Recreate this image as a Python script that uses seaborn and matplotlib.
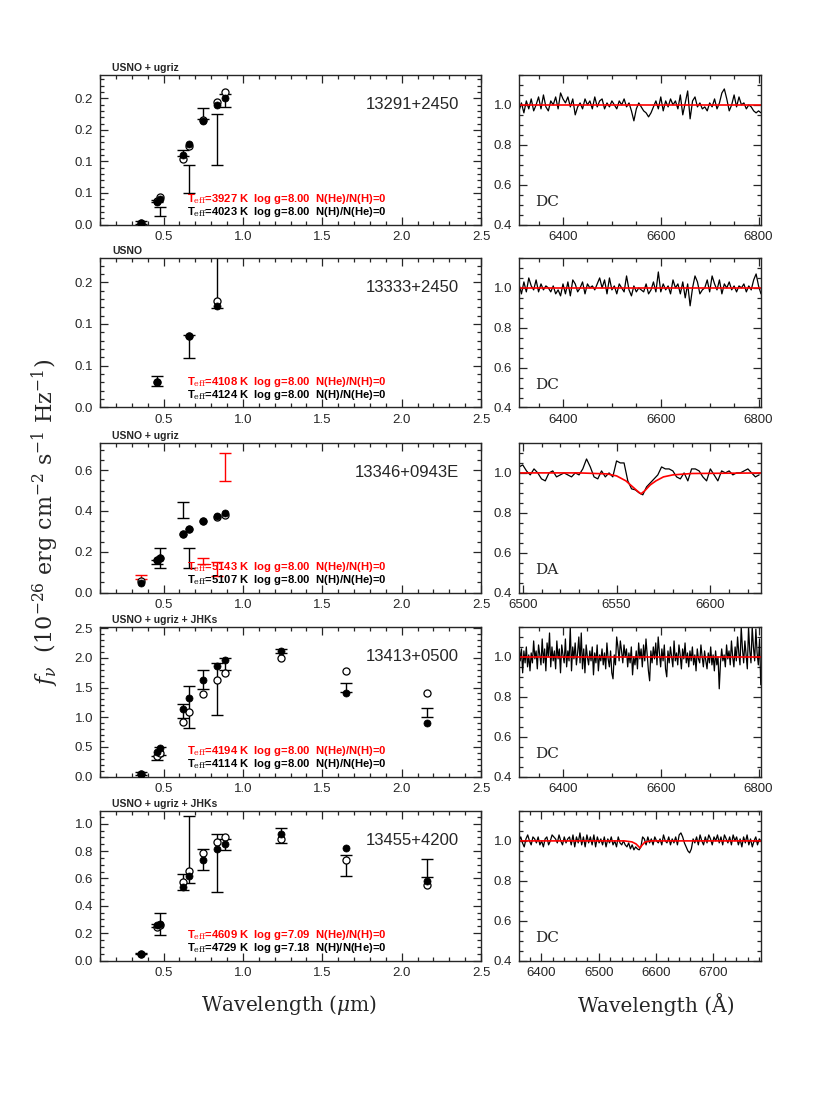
import matplotlib
matplotlib.use("Agg")
import matplotlib.pyplot as plt
import seaborn as sns
import numpy as np
from matplotlib.ticker import MultipleLocator, FixedLocator, FixedFormatter, FormatStrFormatter

# ---- photometry (wavelength in micron, flux in 1e-26 erg/cm2/s/Hz) ----
usno_ugriz = [0.36, 0.46, 0.48, 0.62, 0.66, 0.75, 0.84, 0.89]
usno_only = [0.46, 0.66, 0.84]
usno_ugriz_jhk = [0.36, 0.46, 0.48, 0.62, 0.66, 0.75, 0.84, 0.89, 1.24, 1.65, 2.16]

s1_obs = [0.003, 0.037, 0.021, 0.113, 0.0725, 0.176, 0.1345, 0.197]
s1_err = [0.002, 0.002, 0.007, 0.005, 0.0225, 0.009, 0.0405, 0.010]
s1_bad = [0, 0, 0, 0, 0, 0, 0, 0]
s1_h = [0.003, 0.036, 0.041, 0.110, 0.128, 0.164, 0.189, 0.201]
s1_he = [0.003, 0.037, 0.043, 0.104, 0.125, 0.166, 0.194, 0.2095]

s2_obs = [0.032, 0.073, 0.17]
s2_err = [0.006, 0.0143, 0.051]
s2_bad = [0, 0, 0]
s2_h = [0.030, 0.0857, 0.122]
s2_he = [0.030, 0.086, 0.128]

s3_obs = [0.077, 0.15, 0.17, 0.406, 0.17, 0.155, 0.115, 0.614]
s3_err = [0.010, 0.010, 0.05, 0.040, 0.05, 0.014, 0.033, 0.068]
s3_bad = [1, 0, 0, 0, 0, 1, 1, 1]
s3_h = [0.046, 0.16, 0.17, 0.287, 0.313, 0.352, 0.377, 0.39]
s3_he = [0.054, 0.16, 0.17, 0.287, 0.313, 0.352, 0.372, 0.38]

s4_obs = [0.05, 0.31, 0.43, 1.105, 1.165, 1.635, 1.48, 1.89, 2.115, 1.50, 1.075]
s4_err = [0.02, 0.04, 0.06, 0.115, 0.355, 0.165, 0.44, 0.10, 0.035, 0.07, 0.075]
s4_bad = [0] * 11
s4_h = [0.05, 0.41, 0.475, 1.14, 1.32, 1.63, 1.87, 1.97, 2.12, 1.41, 0.905]
s4_he = [0.05, 0.35, 0.40, 0.92, 1.09, 1.39, 1.63, 1.75, 1.99, 1.78, 1.40]

s5_obs = [0.049, 0.255, 0.267, 0.573, 0.811, 0.74, 0.712, 0.848, 0.914, 0.696, 0.674]
s5_err = [0.005, 0.012, 0.079, 0.056, 0.245, 0.075, 0.212, 0.04, 0.055, 0.076, 0.067]
s5_bad = [0] * 11
s5_h = [0.049, 0.26, 0.268, 0.541, 0.615, 0.732, 0.817, 0.854, 0.927, 0.822, 0.578]
s5_he = [0.049, 0.244, 0.26, 0.573, 0.651, 0.788, 0.868, 0.902, 0.89, 0.737, 0.551]

names = ["13291+2450", "13333+2450", "13346+0943E", "13413+0500", "13455+4200"]
surveys = ["USNO + ugriz", "USNO", "USNO + ugriz", "USNO + ugriz + JHKs", "USNO + ugriz + JHKs"]
fit_h = ["=3927 K  log g=8.00  N(He)/N(H)=0", "=4108 K  log g=8.00  N(He)/N(H)=0",
         "=5143 K  log g=8.00  N(He)/N(H)=0", "=4194 K  log g=8.00  N(He)/N(H)=0",
         "=4609 K  log g=7.09  N(He)/N(H)=0"]
fit_he = ["=4023 K  log g=8.00  N(H)/N(He)=0", "=4124 K  log g=8.00  N(H)/N(He)=0",
          "=5107 K  log g=8.00  N(H)/N(He)=0", "=4114 K  log g=8.00  N(H)/N(He)=0",
          "=4729 K  log g=7.18  N(H)/N(He)=0"]
sptypes = ["DC", "DC", "DA", "DC", "DC"]

# ---- spectra (normalised flux) ----
sp1 = [0.97, 1.01, 0.96, 1.02, 0.98, 1.03, 0.97, 1.00, 1.04, 0.98,
       1.05, 0.99, 0.97, 1.02, 1.00, 1.04, 0.98, 1.06, 1.03, 1.01,
       1.04, 0.99, 1.03, 0.95, 0.99, 1.01, 0.98, 1.03, 1.00, 1.02,
       0.98, 1.04, 0.99, 1.02, 1.03, 0.98, 1.01, 0.99, 1.02, 1.00,
       0.98, 1.02, 1.00, 1.03, 0.99, 1.01, 0.97, 0.92, 0.98, 1.01,
       0.99, 0.97, 0.96, 0.94, 0.96, 0.99, 1.02, 0.98, 1.04, 0.97,
       1.02, 0.99, 1.03, 1.00, 1.02, 0.98, 1.05, 0.95, 1.01, 1.07,
       0.93, 1.02, 1.04, 0.99, 1.01, 0.98, 0.99, 0.97, 1.01, 0.99,
       1.03, 0.98, 1.01, 1.06, 1.08, 1.03, 0.97, 1.00, 1.05, 0.99,
       1.04, 1.00, 1.01, 0.98, 1.00, 0.99, 0.97, 0.96, 0.97, 0.96]
sp2 = [1.02, 0.97, 1.03, 0.98, 1.05, 1.01, 0.99, 1.04, 0.98, 1.02,
       0.99, 1.01, 1.00, 0.98, 1.01, 0.97, 0.99, 0.96, 1.02, 0.97,
       1.03, 0.96, 1.04, 1.02, 0.98, 1.00, 1.03, 0.97, 1.02, 1.00,
       1.01, 0.99, 1.02, 1.05, 1.00, 1.04, 0.97, 1.05, 0.99, 1.01,
       0.97, 1.02, 1.00, 0.98, 1.06, 0.99, 0.96, 1.01, 0.98, 1.00,
       0.99, 0.98, 1.02, 0.97, 0.99, 1.03, 0.98, 1.08, 0.98, 1.02,
       0.99, 1.01, 0.97, 1.04, 1.00, 1.02, 0.97, 1.03, 0.95, 1.02,
       0.91, 1.00, 1.06, 1.03, 0.97, 0.99, 1.00, 1.04, 0.98, 1.06,
       1.02, 0.99, 1.04, 0.97, 1.02, 1.00, 1.03, 0.99, 1.01, 0.98,
       1.01, 1.00, 1.02, 0.98, 1.01, 0.99, 1.04, 1.07, 1.01, 0.97]
sp3 = [1.03, 1.04, 1.01, 0.99, 1.02, 1.00, 0.97, 0.96, 1.00, 1.01,
       0.98, 0.99, 1.00, 0.99, 0.98, 1.00, 0.99, 1.02, 1.07, 1.03,
       0.98, 0.97, 1.01, 0.98, 1.00, 0.98, 1.06, 1.05, 1.05, 0.96,
       0.92, 0.915, 0.90, 0.89, 0.93, 0.95, 0.97, 0.99, 1.03, 1.02,
       1.02, 1.01, 0.98, 0.97, 1.00, 0.96, 1.02, 1.02, 1.01, 0.98,
       0.96, 1.02, 0.99, 0.96, 1.01, 1.00, 1.01, 0.99, 1.00, 1.00,
       1.01, 1.02, 1.00, 0.98, 0.99]
sp4 = [1.06, 0.98, 1.04, 0.92, 1.03, 0.97, 1.05, 0.95, 1.01, 0.93,
       1.02, 0.97, 1.08, 0.99, 1.03, 0.94, 1.06, 1.01, 0.96, 1.09,
       0.97, 1.04, 0.93, 1.07, 1.00, 1.12, 0.95, 1.05, 0.98, 1.03,
       0.94, 1.08, 0.99, 1.04, 0.92, 1.06, 1.01, 0.97, 1.09, 0.95,
       1.03, 0.98, 1.15, 0.93, 1.05, 0.99, 1.07, 0.96, 1.02, 1.10,
       0.97, 1.12, 0.94, 1.04, 0.92, 1.06, 1.00, 0.96, 1.03, 0.98,
       1.05, 0.91, 1.02, 0.97, 1.06, 0.93, 1.01, 0.98, 1.04, 0.96,
       1.02, 0.94, 1.07, 0.99, 0.95, 1.03, 0.92, 0.89, 1.01, 0.96,
       1.10, 1.05, 0.98, 1.08, 1.03, 0.97, 1.06, 1.00, 1.04, 0.95,
       1.02, 0.97, 1.05, 0.91, 1.00, 0.96, 1.03, 0.94, 1.07, 0.99,
       1.04, 0.95, 1.06, 0.98, 1.09, 1.01, 0.93, 0.88, 1.03, 0.97,
       1.05, 0.99, 1.07, 0.96, 1.10, 1.02, 0.95, 1.04, 0.98, 1.06,
       0.94, 0.90, 1.03, 0.97, 1.05, 1.00, 0.95, 1.08, 0.98, 1.02,
       0.96, 1.06, 1.01, 0.94, 1.04, 0.99, 1.07, 0.97, 1.02, 0.95,
       1.03, 0.98, 1.05, 0.96, 1.01, 0.93, 1.04, 0.99, 0.97, 1.06,
       1.00, 0.95, 1.03, 0.98, 0.94, 1.02, 0.97, 1.05, 0.96, 1.01,
       0.93, 1.03, 0.96, 1.00, 0.84, 0.97, 1.04, 0.98, 1.01, 0.95,
       1.06, 0.99, 1.03, 0.96, 1.08, 1.00, 0.95, 1.05, 0.98, 1.10,
       1.02, 0.96, 1.15, 1.04, 0.97, 1.08, 1.01, 0.94, 1.15, 1.03,
       0.97, 1.15, 1.05, 0.98, 1.14, 1.02, 0.96, 1.09, 0.86, 0.95]
sp5 = [1.00, 1.02, 0.99, 0.97, 1.01, 1.03, 1.00, 0.98, 1.02, 1.01,
       0.99, 1.02, 0.98, 1.00, 0.97, 1.01, 1.02, 0.98, 1.00, 1.03,
       1.02, 1.01, 0.99, 1.03, 1.00, 0.98, 1.02, 0.99, 1.01, 1.02,
       0.98, 1.03, 0.97, 1.02, 0.99, 1.04, 0.98, 1.02, 0.97, 1.03,
       0.99, 1.02, 0.98, 1.03, 0.97, 1.02, 0.99, 1.01, 0.98, 1.02,
       0.97, 1.01, 0.99, 1.02, 0.98, 1.00, 0.97, 1.02, 0.99, 0.98,
       1.00, 0.98, 0.97, 0.99, 0.96, 0.98, 0.955, 0.97, 0.96, 0.955,
       0.97, 1.02, 1.01, 0.98, 1.02, 0.99, 1.01, 0.98, 1.02, 1.00,
       0.99, 1.01, 0.98, 1.03, 1.00, 0.99, 1.02, 0.98, 1.01, 0.99,
       1.02, 0.98, 1.03, 1.04, 1.02, 0.99, 0.97, 0.95, 0.94, 0.96,
       1.01, 0.99, 1.02, 0.98, 1.03, 1.00, 0.98, 1.02, 0.99, 1.03,
       1.01, 0.98, 1.02, 1.00, 1.03, 0.99, 1.02, 0.98, 1.03, 1.01,
       0.99, 1.02, 0.98, 1.03, 1.00, 1.02, 0.98, 1.01, 0.97, 1.02,
       0.99, 1.03, 0.98, 1.01, 0.97, 1.00, 1.02, 0.98, 1.01, 1.00]
sp_ranges = [(6310, 6805), (6310, 6805), (6498, 6626), (6310, 6807), (6361, 6783)]
sp_xlims = [(6310, 6805), (6310, 6805), (6498, 6627), (6310, 6805), (6361, 6783)]

# model spectra
mod_flat_w = [6300, 6820]
mod_flat_f = [1.0, 1.0]
mod3_w = [6490, 6530, 6545, 6550, 6555, 6558, 6561, 6563, 6565, 6568, 6571, 6575, 6580, 6590, 6630]
mod3_f = [1.0, 1.0, 0.995, 0.985, 0.96, 0.935, 0.91, 0.895, 0.91, 0.94, 0.96, 0.98, 0.99, 0.997, 1.0]
mod5_w = [6350, 6545, 6558, 6565, 6572, 6576, 6581, 6592, 6800]
mod5_f = [1.0, 1.0, 0.995, 0.985, 0.965, 0.98, 0.995, 1.0, 1.0]

phot = [(usno_ugriz, s1_obs, s1_err, s1_bad, s1_h, s1_he),
        (usno_only, s2_obs, s2_err, s2_bad, s2_h, s2_he),
        (usno_ugriz, s3_obs, s3_err, s3_bad, s3_h, s3_he),
        (usno_ugriz_jhk, s4_obs, s4_err, s4_bad, s4_h, s4_he),
        (usno_ugriz_jhk, s5_obs, s5_err, s5_bad, s5_h, s5_he)]
spectra = [sp1, sp2, sp3, sp4, sp5]
models = [(mod_flat_w, mod_flat_f), (mod_flat_w, mod_flat_f), (mod3_w, mod3_f),
          (mod_flat_w, mod_flat_f), (mod5_w, mod5_f)]

left_ylims = [0.237, 0.179, 0.733, 2.52, 1.093]

sns.set_style("ticks")
plt.rcParams['font.family'] = ['Liberation Sans', 'DejaVu Sans']
plt.rcParams['mathtext.fontset'] = 'dejavuserif'
plt.rcParams['xtick.direction'] = 'in'
plt.rcParams['ytick.direction'] = 'in'

fig = plt.figure(figsize=(8.3, 11.06), dpi=100)
W, H = 830.0, 1106.0
tops = [75, 258, 443, 627, 811]
ph = 149.5


def style_ticks(ax):
    ax.tick_params(which='both', top=True, right=True, direction='in', width=0.9, labelsize=9.5, pad=5)
    ax.tick_params(which='major', length=5.5)
    ax.tick_params(which='minor', length=2.8)
    for s in ax.spines.values():
        s.set_linewidth(1.0)


for i in range(5):
    bottom = 1 - (tops[i] + ph) / H
    axl = fig.add_axes([100 / W, bottom, 381 / W, ph / H])
    axr = fig.add_axes([519 / W, bottom, 242 / W, ph / H])

    wl, obs, err, bad, mh, mhe = phot[i]
    # observed fluxes as error bars
    for x, f, e, b in zip(wl, obs, err, bad):
        axl.errorbar(x, f, yerr=e, fmt='none', ecolor='red' if b else 'black',
                     elinewidth=1.0, capsize=4.5, capthick=1.0, zorder=2)
    sns.scatterplot(x=wl, y=mhe, ax=axl, marker='o', s=26, facecolor='white',
                    edgecolor='black', linewidth=0.9, zorder=3)
    sns.scatterplot(x=wl, y=mh, ax=axl, marker='o', s=26, color='black',
                    edgecolor='black', linewidth=0.5, zorder=4)
    axl.set_xlim(0.1, 2.5)
    axl.set_ylim(0, left_ylims[i])
    axl.xaxis.set_major_locator(FixedLocator([0.5, 1.0, 1.5, 2.0, 2.5]))
    axl.xaxis.set_major_formatter(FormatStrFormatter('%.1f'))
    axl.xaxis.set_minor_locator(MultipleLocator(0.1))
    if i == 0:
        axl.yaxis.set_major_locator(FixedLocator([0, 0.05, 0.10, 0.15, 0.20]))
        axl.yaxis.set_major_formatter(FixedFormatter(["0.0", "0.1", "0.1", "0.2", "0.2"]))
        axl.yaxis.set_minor_locator(MultipleLocator(0.01))
    elif i == 1:
        axl.yaxis.set_major_locator(FixedLocator([0, 0.05, 0.10, 0.15]))
        axl.yaxis.set_major_formatter(FixedFormatter(["0.0", "0.1", "0.1", "0.2"]))
        axl.yaxis.set_minor_locator(MultipleLocator(0.01))
    elif i == 3:
        axl.yaxis.set_major_locator(MultipleLocator(0.5))
        axl.yaxis.set_minor_locator(MultipleLocator(0.1))
        axl.yaxis.set_major_formatter(FormatStrFormatter('%.1f'))
    else:
        axl.yaxis.set_major_locator(MultipleLocator(0.2))
        axl.yaxis.set_minor_locator(MultipleLocator(0.05))
        axl.yaxis.set_major_formatter(FormatStrFormatter('%.1f'))
    style_ticks(axl)
    axl.set_xlabel("")
    axl.set_ylabel("")

    axl.text(0.032, 1.012, surveys[i], transform=axl.transAxes, fontsize=7.5,
             fontweight='bold', ha='left', va='bottom')
    axl.text(0.942, 0.805, names[i], transform=axl.transAxes, fontsize=12,
             ha='right', va='center')
    axl.text(0.228, 0.172, r"T$_{\rm eff}$" + fit_h[i], transform=axl.transAxes,
             fontsize=8.1, fontweight='bold', color='red', ha='left', va='center')
    axl.text(0.228, 0.083, r"T$_{\rm eff}$" + fit_he[i], transform=axl.transAxes,
             fontsize=8.1, fontweight='bold', color='black', ha='left', va='center')

    # spectrum
    w0, w1 = sp_ranges[i]
    flux = spectra[i]
    wave = np.linspace(w0, w1, len(flux))
    sns.lineplot(x=wave, y=flux, ax=axr, color='black', linewidth=0.9,
                 estimator=None, sort=False)
    mw, mf = models[i]
    sns.lineplot(x=mw, y=mf, ax=axr, color='red', linewidth=1.2,
                 estimator=None, sort=False)
    axr.set_ylim(0.4, 1.15)
    axr.set_xlim(*sp_xlims[i])
    axr.yaxis.set_major_locator(MultipleLocator(0.2))
    axr.yaxis.set_minor_locator(MultipleLocator(0.05))
    axr.yaxis.set_major_formatter(FormatStrFormatter('%.1f'))
    if i == 2:
        axr.xaxis.set_major_locator(MultipleLocator(50))
        axr.xaxis.set_minor_locator(MultipleLocator(10))
    elif i == 4:
        axr.xaxis.set_major_locator(MultipleLocator(100))
        axr.xaxis.set_minor_locator(MultipleLocator(20))
    else:
        axr.xaxis.set_major_locator(MultipleLocator(200))
        axr.xaxis.set_minor_locator(MultipleLocator(50))
    style_ticks(axr)
    axr.set_xlabel("")
    axr.set_ylabel("")
    axr.text(0.066, 0.15, sptypes[i], transform=axr.transAxes, fontsize=11,
             family='DejaVu Serif', ha='left', va='center')

fig.text(45 / W, 1 - 522 / H,
         r"$f_\nu$  (10$^{-26}$ erg cm$^{-2}$ s$^{-1}$ Hz$^{-1}$)",
         rotation=90, ha='center', va='center', fontsize=16, family='DejaVu Serif')
fig.text(289 / W, 1 - 1005 / H, r"Wavelength ($\mu$m)", ha='center', va='center',
         fontsize=14.5, family='DejaVu Serif')
fig.text(656 / W, 1 - 1005 / H, "Wavelength (Å)", ha='center', va='center',
         fontsize=14.5, family='DejaVu Serif')

fig.savefig("out.png", dpi=100)
